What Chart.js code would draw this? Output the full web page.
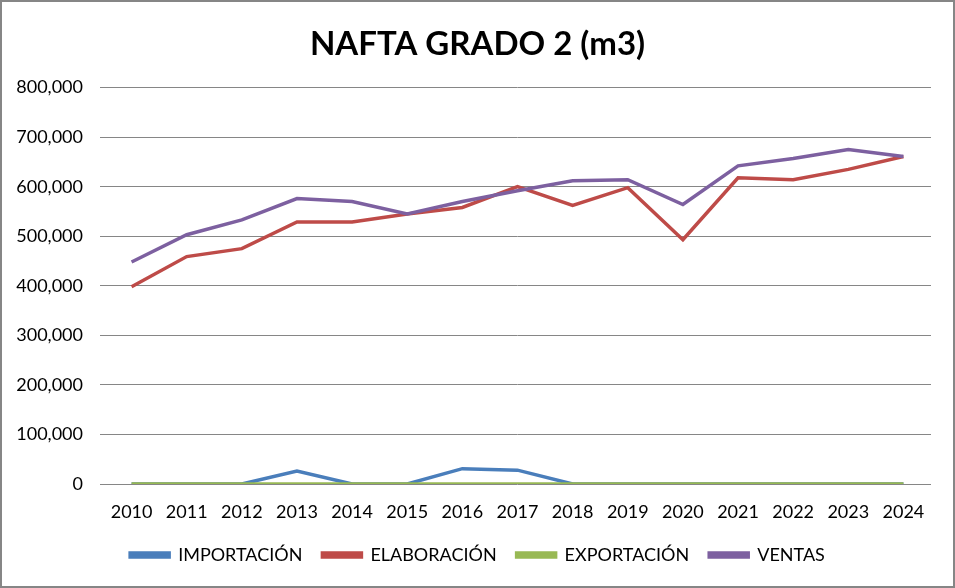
<!DOCTYPE html>
<html>
<head>
<meta charset="utf-8">
<script src="https://cdn.jsdelivr.net/npm/chart.js@4"></script>
<style>
  html, body { margin: 0; padding: 0; background: #fff; }
  #wrap {
    width: 955px; height: 588px; box-sizing: border-box;
    border: 2px solid #868686; background: #fff;
  }
</style>
</head>
<body>
<div id="wrap"><canvas id="chart"></canvas></div>
<script>
  const years = ["2010", "2011", "2012", "2013", "2014", "2015", "2016", "2017",
    "2018", "2019", "2020", "2021", "2022", "2023", "2024"];

  const importacion = [0, 0, 0, 26000, 0, 0, 31000, 28000, 0, 0, 0, 0, 0, 0, 0];
  const elaboracion = [398000, 459000, 475000, 529000, 529000, 545000, 558000, 600000,
    562000, 598000, 493000, 618000, 614000, 635000, 661000];
  const exportacion = [0, 0, 0, 0, 0, 0, 0, 0, 0, 0, 0, 0, 0, 0, 0];
  const ventas = [448000, 503000, 533000, 576000, 570000, 545000, 570000, 592000,
    612000, 614000, 564000, 642000, 657000, 675000, 661000];

  const yTicks = { min: 0, max: 800000, step: 100000 };

  const FONT = "Lato, 'Open Sans', sans-serif";

  function series(label, data, color, order) {
    return {
      label,
      data,
      borderColor: color,
      backgroundColor: color,
      borderWidth: 3.5,
      pointRadius: 0,
      pointHoverRadius: 0,
      tension: 0,
      order, // later series drawn on top, like the original
    };
  }

  const ctx = document.getElementById("chart").getContext("2d");
  new Chart(ctx, {
    type: "line",
    data: {
      labels: years,
      datasets: [
        series("IMPORTACIÓN", importacion, "#4A7EBB", 4),
        series("ELABORACIÓN", elaboracion, "#BE4B48", 3),
        series("EXPORTACIÓN", exportacion, "#98B954", 2),
        series("VENTAS", ventas, "#7D60A0", 1),
      ],
    },
    options: {
      animation: false,
      responsive: true,
      maintainAspectRatio: false,
      layout: { padding: { left: 0, right: 0, top: 0, bottom: 12 } },
      plugins: {
        title: {
          display: true,
          text: "NAFTA GRADO 2 (m3)",
          color: "#000",
          font: { family: FONT, size: 33, weight: "bold" },
          padding: { top: 23, bottom: 23 },
        },
        legend: {
          position: "bottom",
          labels: {
            color: "#000",
            font: { family: FONT, size: 18 },
            boxWidth: 39,
            boxHeight: 4,
            padding: 20,
            sort: (a, b) => a.datasetIndex - b.datasetIndex,
          },
        },
        tooltip: { enabled: false },
      },
      scales: {
        x: {
          offset: true,
          grid: { display: false, drawTicks: false },
          border: { display: false },
          ticks: {
            color: "#000",
            font: { family: FONT, size: 18 },
            padding: 17,
            maxRotation: 0,
            autoSkip: false,
          },
          afterFit: (scale) => { scale.height = 42; },
        },
        y: {
          min: yTicks.min,
          max: yTicks.max,
          grid: { color: "#868686", lineWidth: 1, tickLength: 4 },
          border: { display: false },
          ticks: {
            stepSize: yTicks.step,
            color: "#000",
            font: { family: FONT, size: 18 },
            padding: 17,
            callback: (v) => Number(v).toLocaleString("en-US"),
          },
          afterFit: (scale) => { scale.width = 102; },
        },
        // empty axis on the right, only to keep the plot's right margin
        yRight: {
          position: "right",
          grid: { display: false, drawTicks: false },
          border: { display: false },
          ticks: { display: false },
          afterFit: (scale) => { scale.width = 22; },
        },
      },
    },
  });
</script>
</body>
</html>
